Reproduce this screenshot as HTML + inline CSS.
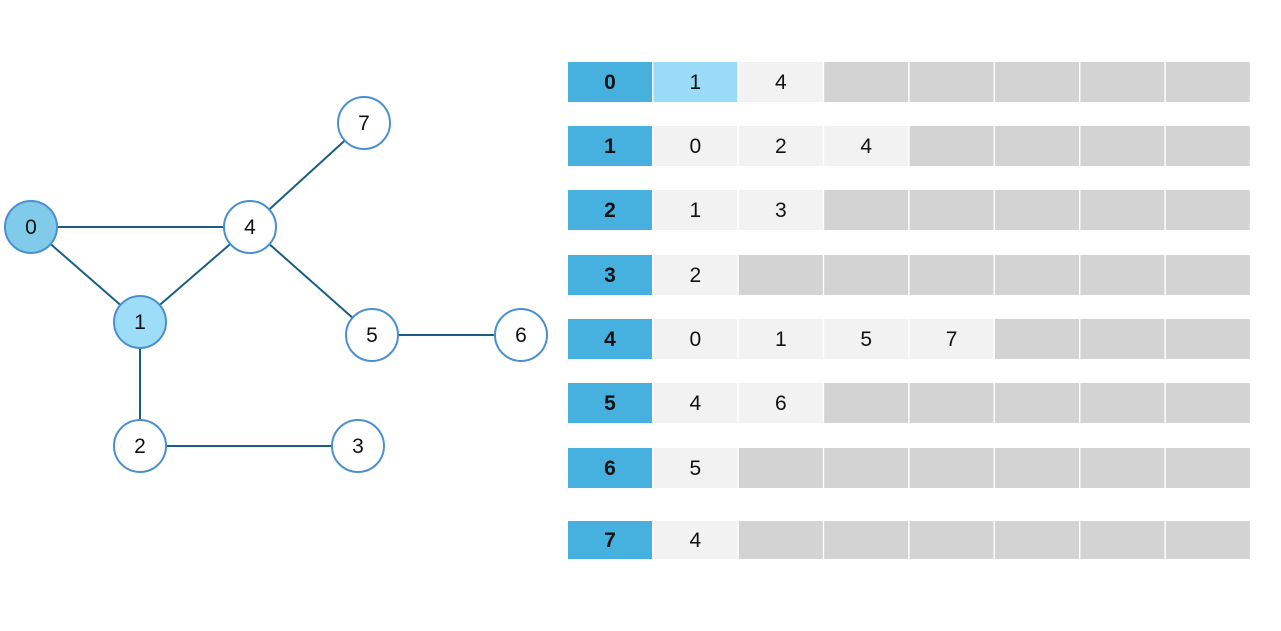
<!DOCTYPE html>
<html><head><meta charset="utf-8"><style>
body{margin:0;background:#fff;}
svg text{font-family:"Liberation Sans","DejaVu Sans",sans-serif;font-size:21px;}
</style></head><body>
<svg id="s" width="1281" height="626"></svg>
<script>
const nodeIds=[0,1,2,3,4,5,6,7];
const nodeX=[31,140,140,358,250,372,521,364];
const nodeY=[227,322,446,446,227,335,335,123];
const edges=[[0,4],[0,1],[1,4],[1,2],[2,3],[4,7],[4,5],[5,6]];
const adjacency=[[1,4],[0,2,4],[1,3],[2],[0,1,5,7],[4,6],[5],[4]];
const rowTops=[62,126,190,255,319,383,448,521];
const rowHeights=[40,40,40,40,40,40,40,38];
const NS="http://www.w3.org/2000/svg",s=document.getElementById('s');
function mk(t,a,p){const e=document.createElementNS(NS,t);for(const k in a)e.setAttribute(k,a[k]);(p||s).appendChild(e);return e;}
edges.forEach(([a,b])=>{const l=mk('line',{x1:nodeX[a],y1:nodeY[a],x2:nodeX[b],y2:nodeY[b],stroke:'#1a5f80','stroke-width':2});

});
nodeIds.forEach((id,i)=>{const g=mk('g',{});


const fill=id===0?'#80cbea':id===1?'#9dddf7':'#fff';
mk('circle',{cx:nodeX[i],cy:nodeY[i],r:26,fill:fill,stroke:'#4a90d0','stroke-width':2},g);
const t=mk('text',{x:nodeX[i],y:nodeY[i]+7,'text-anchor':'middle',fill:'#111'},g);t.textContent=id;});
const colX=c=>568+c*85.4;
adjacency.forEach((list,r)=>{const y=rowTops[r],h=rowHeights[r];
const g=mk('g',{});


for(let c=0;c<8;c++){let fill;
if(c===0)fill='#46b0df';else if(c-1<list.length)fill=(r===0&&c===1)?'#9adcf8':'#f2f2f2';else fill='#d3d3d3';
const rc=mk('rect',{x:colX(c),y:y,width:84,height:h,fill:fill},g);


let txt=c===0?r:(c-1<list.length?list[c-1]:null);
if(txt!==null){const t=mk('text',{x:colX(c)+42,y:y+h/2+7,'text-anchor':'middle',fill:'#111','font-weight':c===0?'bold':'normal'},g);t.textContent=txt;}}
});
</script>
</body></html>
